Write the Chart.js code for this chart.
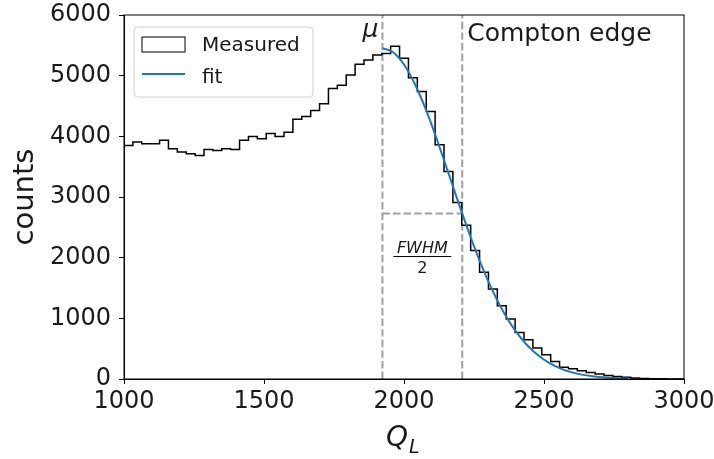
<!DOCTYPE html>
<html>
<head>
<meta charset="utf-8">
<script src="https://cdn.jsdelivr.net/npm/chart.js@4"></script>
<style>
  html, body { margin: 0; padding: 0; background: #fff; }
</style>
</head>
<body>
<canvas id="grafico" width="714" height="459"></canvas>
<script>
// histogram: 63 equal bins between 1000 and 3000
const binStart = 1000;
const binEnd = 3000;
const binCounts = [
  3850, 3905, 3877, 3877, 3937, 3794, 3740, 3712, 3684, 3783,
  3766, 3794, 3783, 3937, 3997, 3959, 4046, 3997, 4069, 4283,
  4325, 4425, 4537, 4790, 4840, 5010, 5190, 5260, 5340, 5365,
  5485, 5288, 4965, 4738, 4409, 3860, 3420, 2910, 2535, 2117,
  1760, 1483, 1208, 988, 768, 647, 511, 400, 290, 195,
  170, 137, 109, 82, 58, 42, 28, 18, 10, 6,
  4, 2, 1
];

// fit curve
const fitX = [1923, 1960, 2000, 2040, 2080, 2120, 2160, 2200, 2240, 2280, 2320, 2360,
  2400, 2440, 2480, 2520, 2560, 2600, 2640, 2680, 2720, 2760, 2800];
const fitY = [5453, 5390, 5184, 4851, 4418, 3915, 3376, 2832, 2312, 1837, 1420, 1068,
  781, 557, 386, 260, 171, 109, 68, 41, 24, 14, 8];

const xTicks = [1000, 1500, 2000, 2500, 3000];
const yTicks = [0, 1000, 2000, 3000, 4000, 5000, 6000];

const muValue = 1923;
const comptonEdge = 2208;
const halfMax = 2727;

const fuente = "'DejaVu Sans', sans-serif";
const gris = "#a0a0a0";

const binWidth = (binEnd - binStart) / binCounts.length;
const histData = binCounts.map((c, i) => ({ x: binStart + i * binWidth, y: c }));
histData.push({ x: binEnd, y: binCounts[binCounts.length - 1] });

const fitData = fitX.map((x, i) => ({ x: x, y: fitY[i] }));

const dashed = {
  borderColor: gris,
  borderWidth: 2,
  borderDash: [7.4, 3.2],
  pointRadius: 0,
  fill: false,
  order: 3,
};

const extras = {
  id: "extras",
  afterDraw(chart) {
    const ctx = chart.ctx;
    const a = chart.chartArea;
    const xs = chart.scales.x;
    const ys = chart.scales.y;
    ctx.save();

    // top and right spines
    ctx.strokeStyle = "#000";
    ctx.lineWidth = 1;
    ctx.strokeRect(a.left, a.top, a.right - a.left, a.bottom - a.top);

    const muPx = xs.getPixelForValue(muValue);
    const cePx = xs.getPixelForValue(comptonEdge);
    const hmPx = ys.getPixelForValue(halfMax);

    ctx.fillStyle = "#1a1a1a";
    ctx.textBaseline = "alphabetic";

    ctx.font = "italic 25px " + fuente;
    ctx.textAlign = "right";
    ctx.fillText("\u03bc", muPx - 4, a.top + 22);

    ctx.font = "25px " + fuente;
    ctx.textAlign = "left";
    ctx.fillText("Compton edge", cePx + 5, a.top + 26);

    // FWHM / 2
    const mid = (muPx + cePx) / 2;
    ctx.textAlign = "center";
    ctx.font = "italic 16px " + fuente;
    ctx.fillText("FWHM", mid, hmPx + 39);
    ctx.beginPath();
    ctx.moveTo(mid - 29, hmPx + 43);
    ctx.lineTo(mid + 29, hmPx + 43);
    ctx.stroke();
    ctx.font = "16px " + fuente;
    ctx.fillText("2", mid, hmPx + 59);

    // legend
    const lx = a.left + 10, ly = a.top + 12, lw = 179, lh = 70;
    ctx.beginPath();
    ctx.roundRect(lx, ly, lw, lh, 4);
    ctx.fillStyle = "rgba(255,255,255,0.8)";
    ctx.fill();
    ctx.strokeStyle = "#d0d0d0";
    ctx.stroke();
    ctx.strokeStyle = "#000";
    ctx.lineWidth = 1;
    ctx.strokeRect(lx + 8, ly + 10, 43, 15);
    ctx.strokeStyle = "#1f77b4";
    ctx.lineWidth = 2;
    ctx.beginPath();
    ctx.moveTo(lx + 8, ly + 47);
    ctx.lineTo(lx + 51, ly + 47);
    ctx.stroke();
    ctx.fillStyle = "#1a1a1a";
    ctx.font = "20px " + fuente;
    ctx.textAlign = "left";
    ctx.fillText("Measured", lx + 68, ly + 24);
    ctx.fillText("fit", lx + 68, ly + 56);

    // axis labels
    ctx.font = "29px " + fuente;
    ctx.textAlign = "center";
    ctx.save();
    ctx.translate(33, (a.top + a.bottom) / 2);
    ctx.rotate(-Math.PI / 2);
    ctx.fillText("counts", 0, 0);
    ctx.restore();

    const qx = (a.left + a.right) / 2;
    ctx.font = "italic 28px " + fuente;
    ctx.textAlign = "right";
    ctx.fillText("Q", qx + 4, 446);
    ctx.font = "italic 19px " + fuente;
    ctx.textAlign = "left";
    ctx.fillText("L", qx + 5, 453);

    ctx.restore();
  },
};

const ejes = {
  grid: { display: true, drawOnChartArea: false, drawTicks: true, tickLength: 5, tickColor: "#000", tickWidth: 1 },
  border: { display: true, color: "#000", width: 1 },
};

const sinComa = (v) => String(v);

new Chart(document.getElementById("grafico"), {
  type: "line",
  data: {
    datasets: [
      {
        label: "fit",
        data: fitData,
        borderColor: "#1f77b4",
        borderWidth: 2,
        pointRadius: 0,
        fill: false,
        cubicInterpolationMode: "monotone",
        order: 0,
      },
      {
        label: "Measured",
        data: histData,
        stepped: "before",
        borderColor: "#000",
        borderWidth: 1.5,
        pointRadius: 0,
        fill: false,
        order: 1,
      },
      Object.assign({ label: "mu", data: [{ x: muValue, y: 0 }, { x: muValue, y: 6000 }] }, dashed),
      Object.assign({ label: "edge", data: [{ x: comptonEdge, y: 0 }, { x: comptonEdge, y: 6000 }] }, dashed),
      Object.assign({ label: "half", data: [{ x: muValue, y: halfMax }, { x: comptonEdge, y: halfMax }] }, dashed),
    ],
  },
  options: {
    responsive: false,
    animation: false,
    devicePixelRatio: 1,
    layout: { padding: { top: 15, right: 30, left: 0, bottom: 0 } },
    plugins: { legend: { display: false }, tooltip: { enabled: false } },
    scales: {
      x: Object.assign({
        type: "linear",
        min: 1000,
        max: 3000,
        afterBuildTicks: (s) => { s.ticks = xTicks.map((v) => ({ value: v })); },
        afterFit: (s) => { s.height = 80; s.paddingLeft = 0; s.paddingRight = 0; },
        ticks: { font: { family: fuente, size: 24 }, color: "#1a1a1a", padding: 3, maxRotation: 0, callback: sinComa },
      }, ejes),
      y: Object.assign({
        min: 0,
        max: 6000,
        afterBuildTicks: (s) => { s.ticks = yTicks.map((v) => ({ value: v })); },
        afterFit: (s) => { s.width = 124; s.paddingTop = 0; s.paddingBottom = 0; },
        ticks: { font: { family: fuente, size: 24 }, color: "#1a1a1a", padding: 8, callback: sinComa },
      }, ejes),
    },
  },
  plugins: [extras],
});
</script>
</body>
</html>
